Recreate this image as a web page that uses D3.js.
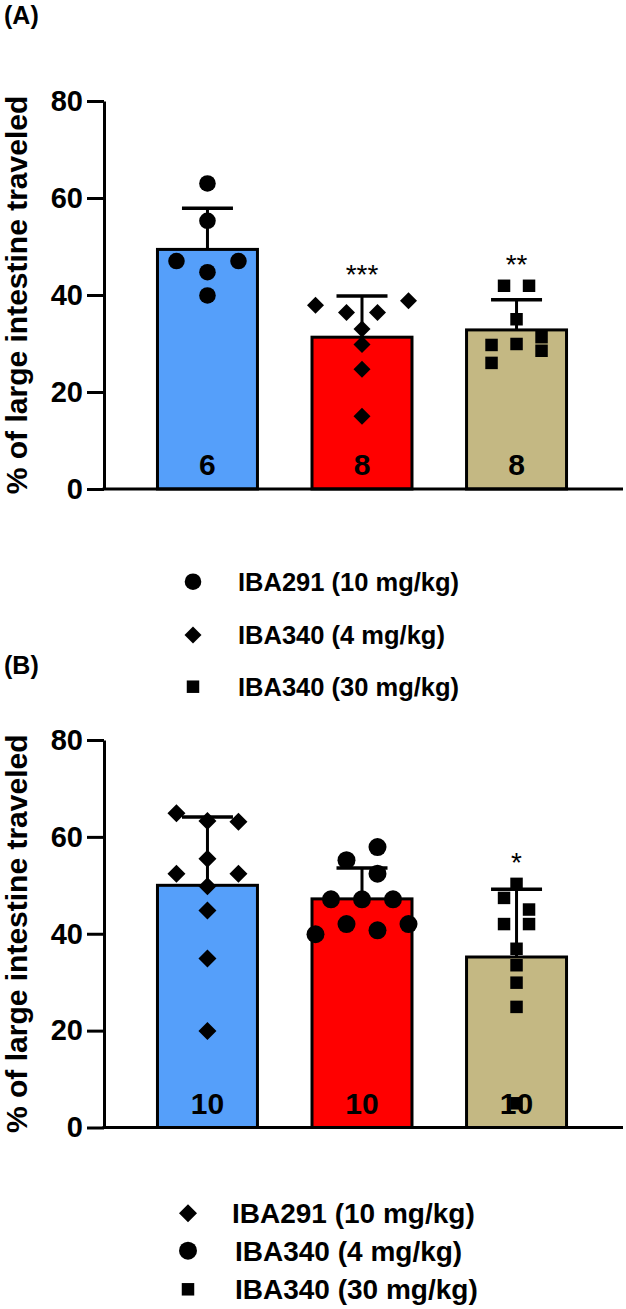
<!DOCTYPE html>
<html>
<head>
<meta charset="utf-8">
<script src="https://cdn.jsdelivr.net/npm/d3@7"></script>
<style>
  html, body { margin: 0; padding: 0; background: #fff; }
  svg text { font-family: "Liberation Sans", Arial, Helvetica, sans-serif; }
</style>
</head>
<body>
<svg id="chart" width="626" height="1309"></svg>
<script>
// ---------- data ----------
const categories = ["IBA291 (10 mg/kg)", "IBA340 (4 mg/kg)", "IBA340 (30 mg/kg)"];
const barColors = ["#559FFA", "#FF0000", "#C4B883"];
const yTicks = [0, 20, 40, 60, 80];
const yTitle = "% of large intestine traveled";

// Panel A
const meansA = [49.4, 31.3, 32.8];
const sdA = [8.5, 8.5, 6.2];
const nA = ["6", "8", "8"];
const sigA = ["", "***", "**"];
const shapesA = ["circle", "diamond", "square"];
const valuesA = [
  [63.0, 55.3, 47.0, 47.0, 44.7, 39.9],
  [37.9, 38.8, 36.4, 36.4, 33.0, 29.8, 24.7, 15.0],
  [41.9, 41.9, 35.0, 29.7, 29.9, 31.3, 28.5, 26.0]
];
const lanesA = [
  [0, 0, -2, 2, 0, 0],
  [-3, 3, -1, 1, 0, 0, 0, 0],
  [-1, 1, 0, -2, 0, 2, 2, -2]
];

// Panel B
const meansB = [50.0, 47.2, 35.2];
const sdB = [14.1, 6.4, 14.0];
const nB = ["10", "10", "10"];
const sigB = ["", "", "*"];
const shapesB = ["diamond", "circle", "square"];
const valuesB = [
  [64.9, 63.1, 63.3, 55.5, 52.4, 52.4, 49.8, 44.8, 34.9, 19.9],
  [57.9, 55.2, 52.4, 47.1, 47.1, 47.1, 42.0, 42.0, 39.9, 40.7],
  [50.3, 47.4, 45.0, 42.0, 42.0, 36.9, 33.5, 29.9, 24.9, 5.0]
];
const lanesB = [
  [-2, 2, 0, 0, -2, 2, 0, 0, 0, 0],
  [1, -1, 1, -2, 0, 2, -1, 3, -3, 1],
  [0, -1, 1, -1, 1, 0, 0, 0, 0, 0]
];

// ---------- layout ----------
const svg = d3.select("#chart");
const FONT = "'Liberation Sans', Arial, sans-serif";

const x = d3.scaleBand()
  .domain(categories)
  .range([104, 620])
  .paddingInner(0.353)
  .paddingOuter(0.346);

const laneUnit = { circle: 15.5, diamond: 15.5, square: 12.5 };

function symbolPath(shape, big) {
  if (shape === "circle") return d3.symbol(d3.symbolCircle, big ? 254 : 216)();
  if (shape === "diamond") return d3.symbol(d3.symbolSquare, big ? 162 : 144)();
  return d3.symbol(d3.symbolSquare, 156)();
}
function symbolTransform(shape, cx, cy) {
  return `translate(${cx},${cy})` + (shape === "diamond" ? " rotate(45)" : "");
}

function drawPanel(cfg) {
  const g = svg.append("g");
  const y = d3.scaleLinear().domain([0, 80]).range([cfg.y0, cfg.y80]);

  // panel letter
  g.append("text").attr("x", 4).attr("y", cfg.letterY)
    .attr("font-size", 25).attr("font-weight", "bold").text(cfg.letter);

  // y axis title
  g.append("text")
    .attr("transform", `translate(27,${(cfg.y0 + cfg.y80) / 2}) rotate(-90)`)
    .attr("text-anchor", "middle")
    .attr("font-size", 30).attr("font-weight", "bold")
    .text(yTitle);

  // bars
  g.selectAll("rect.bar").data(categories).join("rect")
    .attr("class", "bar")
    .attr("x", d => x(d))
    .attr("width", x.bandwidth())
    .attr("y", (d, i) => y(cfg.means[i]))
    .attr("height", (d, i) => y(0) - y(cfg.means[i]))
    .attr("fill", (d, i) => barColors[i])
    .attr("stroke", "#000").attr("stroke-width", 3);

  // error bars
  categories.forEach((c, i) => {
    const cx = x(c) + x.bandwidth() / 2;
    const top = y(cfg.means[i] + cfg.sd[i]);
    g.append("line").attr("x1", cx).attr("x2", cx)
      .attr("y1", y(cfg.means[i])).attr("y2", top)
      .attr("stroke", "#000").attr("stroke-width", 3);
    g.append("line").attr("x1", cx - 25.5).attr("x2", cx + 25.5)
      .attr("y1", top).attr("y2", top)
      .attr("stroke", "#000").attr("stroke-width", 3.5);
  });

  // n labels
  g.selectAll("text.n").data(categories).join("text")
    .attr("class", "n")
    .attr("x", d => x(d) + x.bandwidth() / 2)
    .attr("y", y(0) - 14)
    .attr("text-anchor", "middle")
    .attr("font-size", 30).attr("font-weight", "bold")
    .text((d, i) => cfg.n[i]);

  // points
  categories.forEach((c, i) => {
    const cx = x(c) + x.bandwidth() / 2;
    const shape = cfg.shapes[i];
    g.selectAll(null).data(cfg.values[i]).join("path")
      .attr("d", symbolPath(shape, cfg.big))
      .attr("transform", (v, j) => symbolTransform(shape, cx + cfg.lanes[i][j] * laneUnit[shape], y(v)))
      .attr("fill", "#000");
  });

  // significance
  categories.forEach((c, i) => {
    if (!cfg.sig[i]) return;
    const cx = x(c) + x.bandwidth() / 2;
    const topVal = Math.max(cfg.means[i] + cfg.sd[i], d3.max(cfg.values[i]));
    g.append("text").attr("x", cx).attr("y", y(topVal) - 12)
      .attr("text-anchor", "middle").attr("font-size", 28)
      .text(cfg.sig[i]);
  });

  // y axis
  const yAxis = g.append("g").attr("transform", "translate(104,0)")
    .call(d3.axisLeft(y).tickValues(yTicks).tickSize(17).tickPadding(4).tickSizeOuter(0));
  yAxis.select(".domain").attr("stroke", "#000").attr("stroke-width", 3);
  yAxis.selectAll(".tick line").attr("stroke", "#000").attr("stroke-width", 3);
  yAxis.selectAll(".tick text").attr("font-size", 29).attr("font-weight", "bold")
    .attr("font-family", FONT).attr("fill", "#000");

  // x axis baseline
  g.append("line").attr("x1", 102.5).attr("x2", 623)
    .attr("y1", y(0)).attr("y2", y(0))
    .attr("stroke", "#000").attr("stroke-width", 3);

  // legend
  categories.forEach((c, i) => {
    const ly = cfg.legendY[i];
    const shape = cfg.shapes[i];
    g.append("path").attr("d", symbolPath(shape, cfg.big))
      .attr("transform", symbolTransform(shape, cfg.legendMarkX, ly))
      .attr("fill", "#000");
    g.append("text").attr("x", cfg.legendTextX[i]).attr("y", ly)
      .attr("dy", "0.36em")
      .attr("font-size", cfg.legendFont).attr("font-weight", "bold")
      .text(c);
  });
}

drawPanel({
  letter: "(A)", letterY: 24,
  y0: 489, y80: 101,
  means: meansA, sd: sdA, n: nA, sig: sigA, shapes: shapesA,
  values: valuesA, lanes: lanesA, big: false,
  legendY: [581.7, 635, 686.7], legendMarkX: 193, legendTextX: [238, 238, 238], legendFont: 25.5
});

drawPanel({
  letter: "(B)", letterY: 674,
  y0: 1127.5, y80: 740,
  means: meansB, sd: sdB, n: nB, sig: sigB, shapes: shapesB,
  values: valuesB, lanes: lanesB, big: true,
  legendY: [1213.3, 1250.7, 1289.3], legendMarkX: 188, legendTextX: [232, 235, 235], legendFont: 28
});
</script>
</body>
</html>
